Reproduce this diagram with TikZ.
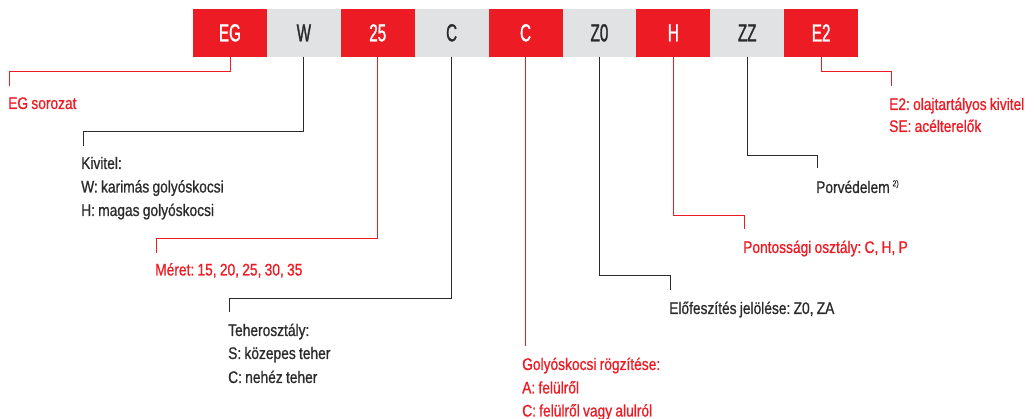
\documentclass[tikz,border=0pt]{standalone}
\usepackage{fontspec}
\setmainfont{Liberation Sans}
\newfontfamily\lblfont{Liberation Sans}[FakeStretch=0.82,FakeBold=0.9,WordSpace=0.85]
\newfontfamily\bxfont{Liberation Sans}[FakeStretch=0.62,FakeBold=1.2]
\definecolor{cred}{HTML}{ED1C24}
\definecolor{cgray}{HTML}{E1E2E4}
\definecolor{ctext}{HTML}{2B2B2B}
\frenchspacing
\begin{document}
\begin{tikzpicture}[x=1pt,y=-1pt,
  codebox/.style={minimum width=73.9pt,minimum height=47.7pt,inner sep=0pt,outer sep=0pt,
    font=\bxfont\fontsize{24.5}{25}\selectfont},
  redbox/.style={codebox,fill=cred,text=white},
  graybox/.style={codebox,fill=cgray,text=ctext},
  lbl/.style={anchor=base west,inner sep=0pt,font=\lblfont\fontsize{16.8}{20}\selectfont},
  redlbl/.style={lbl,text=cred},
  blklbl/.style={lbl,text=ctext},
  redline/.style={draw=cred,line width=0.9pt},
  blkline/.style={draw=ctext,line width=0.9pt}]
\useasboundingbox (0,0) rectangle (1034,419);
% code boxes
\node[redbox]  (b1) at (229.95,32.85) {EG};
\node[graybox] (b2) at (303.85,32.85) {W};
\node[redbox]  (b3) at (377.75,32.85) {25};
\node[graybox] (b4) at (451.65,32.85) {C};
\node[redbox]  (b5) at (525.55,32.85) {C};
\node[graybox] (b6) at (599.45,32.85) {Z0};
\node[redbox]  (b7) at (673.35,32.85) {H};
\node[graybox] (b8) at (747.25,32.85) {ZZ};
\node[redbox]  (b9) at (821.15,32.85) {E2};
% connector ends
\coordinate (e1) at (9,86);
\coordinate (e2) at (83,146);
\coordinate (e3) at (156,253);
\coordinate (e4) at (229,312);
\coordinate (e5) at (525.55,346);
\coordinate (e6) at (670,290);
\coordinate (e7) at (744,229);
\coordinate (e8) at (817,168);
\coordinate (e9) at (891,86);
% connectors
\draw[redline] (b1.south) -- ++(0,15) -| (e1);
\draw[blkline] (b2.south) -- ++(0,75) -| (e2);
\draw[redline] (b3.south) -- ++(0,182) -| (e3);
\draw[blkline] (b4.south) -- ++(0,242) -| (e4);
\draw[redline] (b5.south) -- (e5);
\draw[blkline] (b6.south) -- ++(0,219) -| (e6);
\draw[redline] (b7.south) -- ++(0,159) -| (e7);
\draw[blkline] (b8.south) -- ++(0,99) -| (e8);
\draw[redline] (b9.south) -- ++(0,15) -| (e9);
% labels
\node[redlbl] (t1) at (8,109) {EG sorozat};
\node[blklbl] (t2a) at (81,169) {Kivitel:};
\node[blklbl] (t2b) at (81,192.5) {W: karimás golyóskocsi};
\node[blklbl] (t2c) at (81,216) {H: magas golyóskocsi};
\node[redlbl] (t3) at (155,275.5) {Méret: 15, 20, 25, 30, 35};
\node[blklbl] (t4a) at (228,336) {Teherosztály:};
\node[blklbl] (t4b) at (228,359) {S: közepes teher};
\node[blklbl] (t4c) at (228,383) {C: nehéz teher};
\node[redlbl] (t5a) at (522,370) {Golyóskocsi rögzítése:};
\node[redlbl] (t5b) at (522,393.5) {A: felülről};
\node[redlbl] (t5c) at (522,416.5) {C: felülről vagy alulról};
\node[blklbl] (t6) at (669,314) {Előfeszítés jelölése: Z0, ZA};
\node[redlbl] (t7) at (743,253) {Pontossági osztály: C, H, P};
\node[blklbl] (t8) at (816,193) {Porvédelem\,\raisebox{0.75ex}{\fontsize{8.5}{8.5}\selectfont 2)}};
\node[redlbl] (t9a) at (889,110) {E2: olajtartályos kivitel};
\node[redlbl] (t9b) at (889,132) {SE: acélterelők};
\end{tikzpicture}
\end{document}
